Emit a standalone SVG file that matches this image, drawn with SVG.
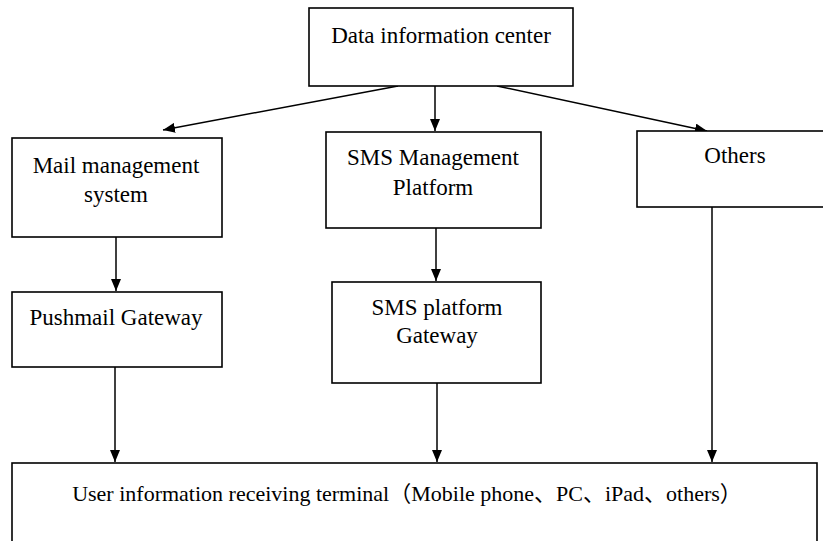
<svg xmlns="http://www.w3.org/2000/svg" width="823" height="541" viewBox="0 0 823 541">
<defs>
<marker id="arr" markerUnits="userSpaceOnUse" markerWidth="12" markerHeight="10" refX="12" refY="5" orient="auto">
<path d="M0,0 L12,5 L0,10 z" fill="#000"/>
</marker>
<style>
.box{fill:#fff;stroke:#000;stroke-width:1.6}
.lbl{font-family:"Liberation Serif","Noto Sans CJK SC",serif;font-size:23px;fill:#000;text-anchor:middle}
.big{font-size:22px}
.conn{stroke:#000;stroke-width:1.5;fill:none;marker-end:url(#arr)}
</style>
</defs>
<rect width="823" height="541" fill="#fff"/>
<g id="connectors">
<line class="conn" x1="398" y1="86" x2="163" y2="130"/>
<line class="conn" x1="435" y1="86" x2="435" y2="131"/>
<line class="conn" x1="497" y1="86" x2="707" y2="131"/>
<line class="conn" x1="116" y1="237" x2="116" y2="291"/>
<line class="conn" x1="436" y1="228" x2="436" y2="281"/>
<line class="conn" x1="115" y1="367" x2="115" y2="462"/>
<line class="conn" x1="437" y1="383" x2="437" y2="462"/>
<line class="conn" x1="712" y1="207" x2="712" y2="462"/>
</g>
<g id="data-center">
<rect class="box" x="309" y="8" width="264" height="78"/>
<text class="lbl" x="441" y="43">Data information center</text>
</g>
<g id="mail-mgmt">
<rect class="box" x="12" y="138" width="210" height="99"/>
<text class="lbl" x="116" y="173">Mail management</text>
<text class="lbl" x="116" y="202">system</text>
</g>
<g id="sms-mgmt">
<rect class="box" x="326" y="132" width="215" height="96"/>
<text class="lbl" x="433" y="165">SMS Management</text>
<text class="lbl" x="433" y="195">Platform</text>
</g>
<g id="others">
<rect class="box" x="637" y="131" width="200" height="76"/>
<text class="lbl" x="735" y="163">Others</text>
</g>
<g id="pushmail">
<rect class="box" x="12" y="292" width="210" height="75"/>
<text class="lbl" x="116" y="325">Pushmail Gateway</text>
</g>
<g id="sms-gateway">
<rect class="box" x="332" y="282" width="209" height="101"/>
<text class="lbl" x="437" y="315">SMS platform</text>
<text class="lbl" x="437" y="343">Gateway</text>
</g>
<g id="terminal">
<rect class="box" x="12" y="463" width="805" height="90"/>
<text class="lbl big" x="407" y="501">User information receiving terminal（Mobile phone、PC、iPad、others）</text>
</g>
</svg>
